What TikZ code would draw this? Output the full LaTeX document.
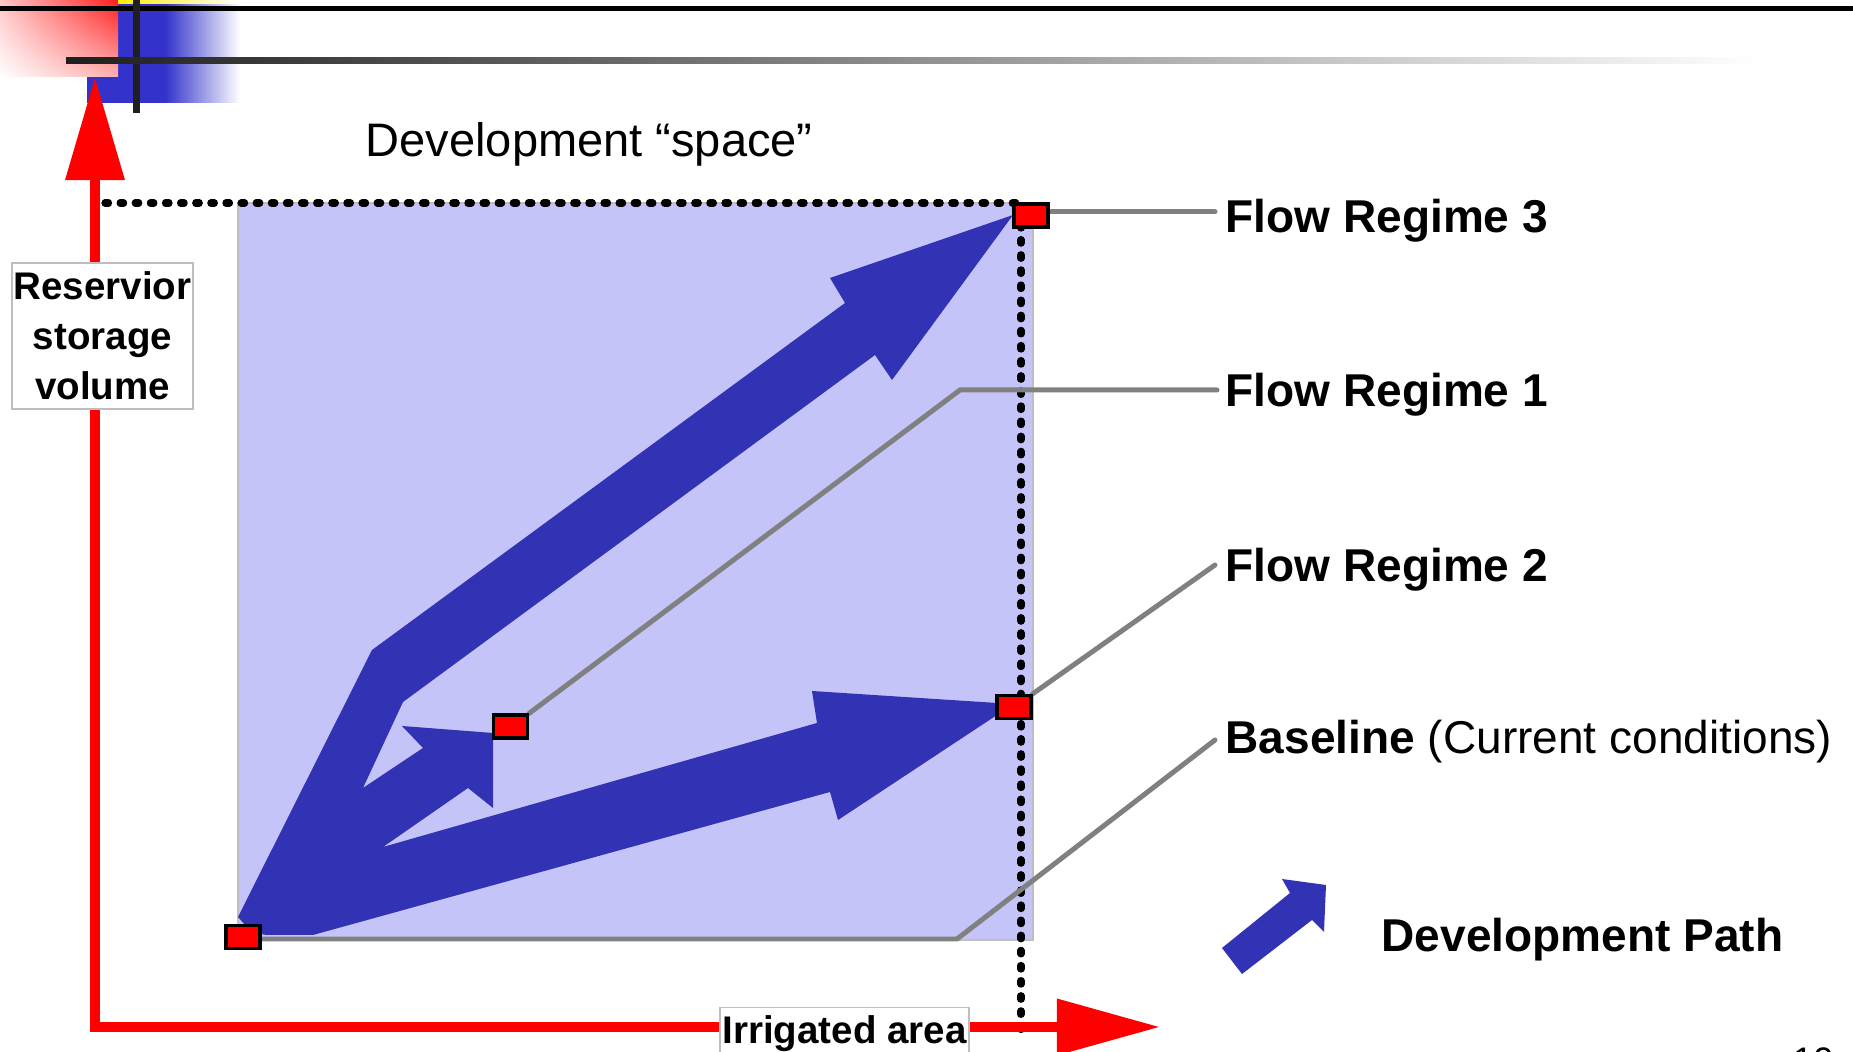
\documentclass[tikz,border=0pt]{standalone}
\usepackage{fontspec}
\setmainfont{Liberation Sans}
\usetikzlibrary{arrows.meta,shadings}
\definecolor{axred}{RGB}{255,0,0}
\definecolor{devblue}{RGB}{50,50,180}
\definecolor{hblue}{RGB}{51,51,204}
\definecolor{areablue}{RGB}{196,196,248}
\definecolor{leadgray}{RGB}{128,128,128}
\definecolor{boxgray}{RGB}{190,190,190}
\pgfdeclarelayer{front}
\pgfsetlayers{main,front}
\begin{document}
\begin{tikzpicture}[x=0.01cm,y=-0.01cm,
  axline/.style={line width=2.85pt, draw=axred, line join=miter},
  dotline/.style={line width=2.05pt, dash pattern=on 1.0pt off 3.3pt, line cap=round},
  leadline/.style={line width=1.42pt, draw=leadgray, line cap=round},
  sq/.style={draw=black, fill=axred, line width=0.9pt, minimum width=0.34cm, minimum height=0.23cm, inner sep=0pt},
  lbl/.style={font=\fontsize{13.09}{15}\selectfont, inner sep=0pt, anchor=base west},
  axlbl/.style={draw=boxgray, fill=white, line width=0.4pt, inner sep=0pt, font=\fontsize{10.95}{14.23}\selectfont\bfseries}]
\useasboundingbox (0,0) rectangle (1853,1052);
\clip (0,0) rectangle (1853,1052);

% header decoration
\fill[hblue] (87,0) rectangle (165,103);
\shade[left color=hblue, right color=white] (165,0) rectangle (240,103);
\shade[upper left=red!22, upper right=red!88, lower left=white, lower right=red!30] (0,0) rectangle (118,77);
\shade[left color=yellow!85!orange, right color=white] (118,0) rectangle (240,4);
\draw[line width=1.42pt] (0,8.5) -- (1853,8.5);
\fill[black!88] (133,0) rectangle (140,113);
\shade[left color=black!88, right color=white] (66,58) rectangle (1760,64);

% development space
\filldraw[fill=areablue, draw=boxgray, line width=0.3pt] (238,203) rectangle (1033,940);
\coordinate (dtl) at (105,203);
\coordinate (dtr) at (1021,203);
\coordinate (dbr) at (1021,1033);
\draw[dotline] (dtl) -- (dtr) -- (dbr);

% development paths
\fill[devblue] (238,917) -- (372,650) -- (845,303) -- (830,278) -- (1013,215)
  -- (892,380) -- (875,355) -- (403,702) -- (363,788) -- (423,748) -- (402,726)
  -- (493,733) -- (493,808) -- (468,788) -- (383,847) -- (817,723) -- (812,691)
  -- (997,703) -- (997,715) -- (838,820) -- (830,792) -- (313,935) -- (267,935)
  .. controls (252,933) .. (238,917) -- cycle;

% squares (front layer)
\begin{pgfonlayer}{front}
\node[sq] (base) at (243,937) {};
\node[sq] (fr1) at (510.5,726.5) {};
\node[sq] (fr2) at (1014,707) {};
\node[sq] (fr3) at (1031,215.5) {};
\end{pgfonlayer}

% leader lines
\coordinate (fr3end) at (1215,212);
\coordinate (fr1bend) at (960,390);
\coordinate (fr1end) at (1217,390);
\coordinate (fr2end) at (1215,565);
\coordinate (bbend) at (957,939);
\coordinate (blend) at (1215,740);
\draw[leadline] (fr3.center |- fr3end) -- (fr3end);
\draw[leadline] (fr1.north east) -- (fr1bend) -- (fr1end);
\draw[leadline] (fr2.north east) -- (fr2end);
\draw[leadline] (base.center |- bbend) -- (bbend) -- (blend);

% labels
\node[lbl] (l3) at (1225,233) {\bfseries Flow Regime 3};
\node[lbl] (l1) at (1225,407) {\bfseries Flow Regime 1};
\node[lbl] (l2) at (1225,582) {\bfseries Flow Regime 2};
\node[lbl] (lb) at (1225,754) {{\bfseries Baseline} (Current conditions)};

% legend
\fill[devblue] (1222,948) -- (1290,893) -- (1282,879) -- (1326,885) -- (1324,932) -- (1312,920) -- (1242,974) -- cycle;
\node[lbl] (ldev) at (1381,952) {\bfseries Development Path};

% title
\node[lbl, font=\fontsize{13.37}{15}\selectfont] (lspace) at (365,157) {Development “space”};

% axes
\coordinate (org) at (95,1027);
\coordinate (ytip) at (95,77);
\coordinate (xtip) at (1160,1027);
\draw[axline, {Triangle[length=1.03cm,width=0.57cm]}-{Triangle[length=1.03cm,width=0.54cm]}] (ytip) -- (org) -- (xtip);

\node[axlbl, align=center, minimum width=1.81cm, minimum height=1.46cm] (lres) at (102.5,336) {Reservior\\storage\\volume};
\node[axlbl, anchor=north, minimum width=2.49cm, text height=10.24pt, text depth=8.5pt] (lirr) at (844.5,1007) {Irrigated area};

% page number (cut off at the lower edge, as in the reference)
\node[lbl, font=\fontsize{10.5}{12}\selectfont] (lpage) at (1792,1074) {10};
\end{tikzpicture}
\end{document}
